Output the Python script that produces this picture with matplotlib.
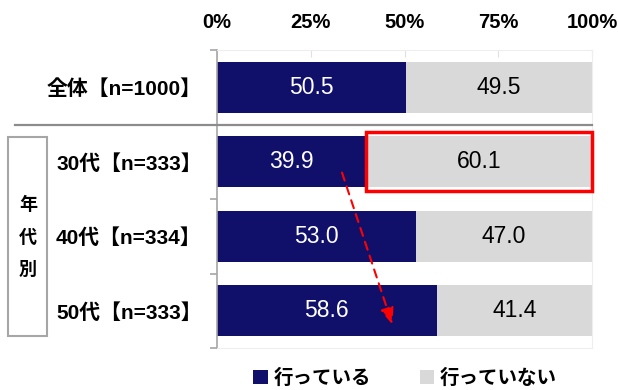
import matplotlib

matplotlib.use("Agg")
import matplotlib.pyplot as plt
from matplotlib.patches import Patch, Rectangle

plt.rcParams["font.family"] = ["Liberation Sans", "Noto Sans CJK JP"]

# Survey results (%)
categories = ["全体【n=1000】", "30代【n=333】", "40代【n=334】", "50代【n=333】"]
doing = [50.5, 39.9, 53.0, 58.6]
not_doing = [49.5, 60.1, 47.0, 41.4]
series_names = ["行っている", "行っていない"]
x_ticks = [0, 25, 50, 75, 100]
group_label = "年\n代\n別"

NAVY = "#10106B"
GRAY = "#D9D9D9"
RED = "#FF0000"

W, H = 618, 390
fig = plt.figure(figsize=(W / 100, H / 100), dpi=100, facecolor="white")
ax = fig.add_axes([217 / W, 1 - 348 / H, 375 / W, (348 - 50) / H])

ypos = list(range(len(categories)))
bar_h = 0.68
ax.barh(ypos, doing, height=bar_h, color=NAVY, zorder=2)
ax.barh(ypos, not_doing, left=doing, height=bar_h, color=GRAY, zorder=2)

for y, a, b in zip(ypos, doing, not_doing):
    ax.text(a / 2, y, f"{a:.1f}", ha="center", va="center", color="white", fontsize=16.5, zorder=3)
    ax.text(a + b / 2, y, f"{b:.1f}", ha="center", va="center", color="black", fontsize=16.5, zorder=3)

ax.set_xlim(0, 100)
ax.set_ylim(len(categories) - 0.5, -0.5)

# x axis on top
ax.xaxis.tick_top()
ax.set_xticks(x_ticks, [f"{t}%" for t in x_ticks])
ax.tick_params(axis="x", which="major", direction="in", length=5, color="#E0E0E0",
               labelsize=14.5, pad=13)
for lbl in ax.get_xticklabels():
    lbl.set_fontweight("bold")

# category labels, boundary ticks on the left spine
ax.set_yticks(ypos, categories)
ax.tick_params(axis="y", which="major", length=0, labelsize=15, pad=11)
for lbl in ax.get_yticklabels():
    lbl.set_fontweight("bold")
ax.set_yticks([i - 0.5 for i in range(len(categories) + 1)], minor=True)
ax.tick_params(axis="y", which="minor", length=5, color="#A6A6A6", width=1.2)

ax.spines["left"].set_color("#A6A6A6")
ax.spines["left"].set_linewidth(1.2)
for side in ("top", "right", "bottom"):
    ax.spines[side].set_color("#EEEEEE")

# separator between total and age groups
ax.plot([-202 / 375, 1.0], [0.5, 0.5], transform=ax.get_yaxis_transform(),
        color="#8C8C8C", lw=1.6, clip_on=False, zorder=4)

# highlight box on the 30s "not doing" segment
ax.add_patch(Rectangle((doing[1] - 0.2, 1 - 0.395), not_doing[1] + 0.2, 0.79,
                       fill=False, edgecolor=RED, lw=2.5, clip_on=False, zorder=5))

# trend arrow from 30s to 50s
ax.annotate("", xy=(47.0, 3.22), xytext=(33.1, 1.11),
            arrowprops=dict(arrowstyle="-|>,head_length=1.0,head_width=0.4",
                            linestyle=(0, (4, 3)), color=RED, lw=1.5),
            zorder=6)

# group box on the far left
fig.patches.append(Rectangle((8 / W, 1 - 336 / H), 39 / W, 199 / H, transform=fig.transFigure,
                             fill=False, edgecolor="#A6A6A6", lw=1.5))
fig.text(28 / W, 1 - 238 / H, group_label, ha="center", va="center", fontsize=13,
         fontweight="bold", linespacing=2.15)

handles = [Patch(facecolor=NAVY), Patch(facecolor=GRAY)]
fig.legend(handles, series_names, loc="center", bbox_to_anchor=(405 / W, 1 - 378 / H), ncol=2,
           frameon=False, handlelength=0.75, handleheight=0.75, handletextpad=0.3,
           columnspacing=2.5, prop={"size": 14, "weight": "bold"})

fig.savefig("out.png", dpi=100, facecolor="white")
